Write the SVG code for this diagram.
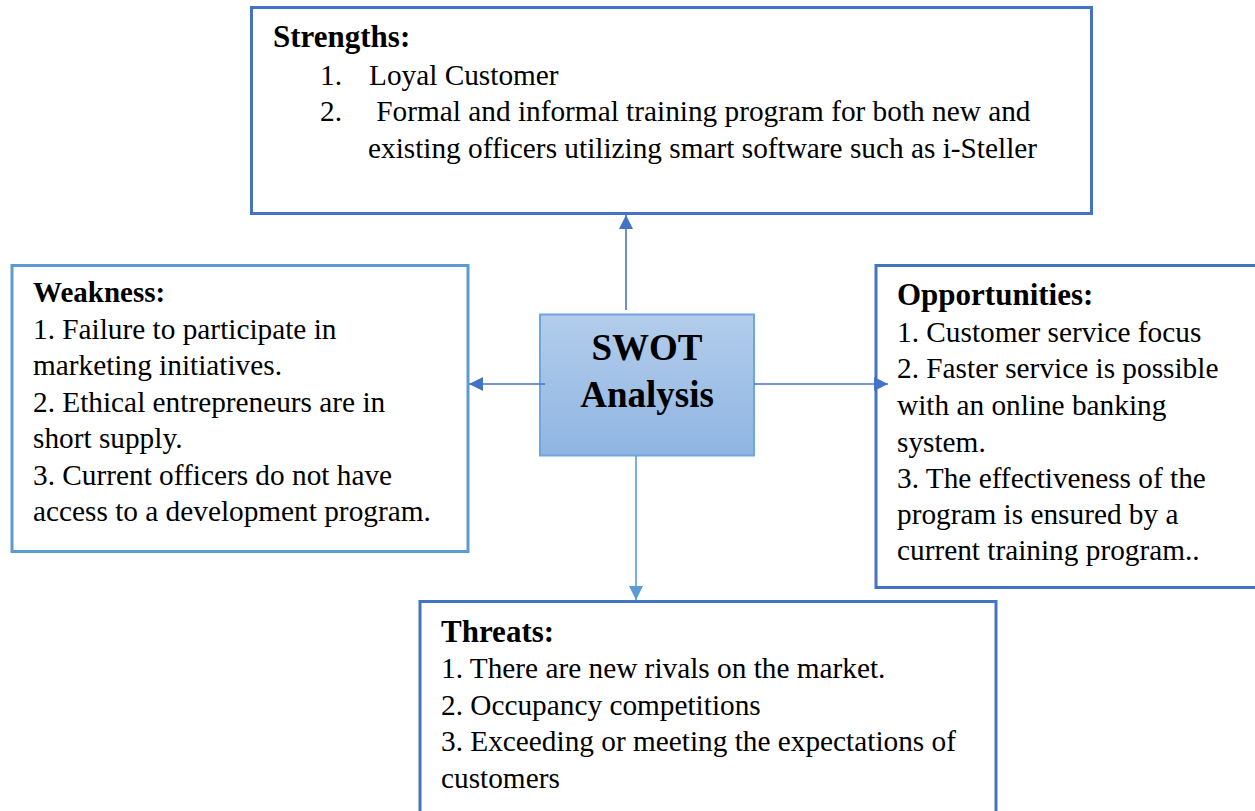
<svg xmlns="http://www.w3.org/2000/svg" width="1255" height="811" viewBox="0 0 1255 811">
<style>
.box{fill:#ffffff;stroke-width:3}
.dk{stroke:#4472C4}
.lt{stroke:#5B9BD5}
.t{font-family:"Liberation Serif","Times New Roman",serif;font-size:29.3px;fill:#000}
.h{font-family:"Liberation Serif","Times New Roman",serif;font-size:31px;font-weight:bold;fill:#000}
.c{fill:none;stroke-width:1.6}
</style>
<defs>
<linearGradient id="g" x1="0" y1="0" x2="0" y2="1">
<stop offset="0" stop-color="#b3cdeb"/>
<stop offset="1" stop-color="#8fb5e2"/>
</linearGradient>
<marker id="ad" markerUnits="userSpaceOnUse" markerWidth="14" markerHeight="14" refX="14" refY="7" orient="auto"><path d="M0,0 L14,7 L0,14 z" fill="#4472C4"/></marker>
<marker id="al" markerUnits="userSpaceOnUse" markerWidth="14" markerHeight="14" refX="14" refY="7" orient="auto"><path d="M0,0 L14,7 L0,14 z" fill="#5B9BD5"/></marker>
</defs>
<rect width="1255" height="811" fill="#ffffff"/>
<g id="strengths">
<rect class="box dk" x="251.5" y="7.5" width="840" height="206"/>
<text class="h" x="273" y="47">Strengths:</text>
<text class="t" x="320" y="85">1.</text>
<text class="t" x="369" y="85">Loyal Customer</text>
<text class="t" x="320" y="121">2.</text>
<text class="t" x="369" y="121" xml:space="preserve"> Formal and informal training program for both new and</text>
<text class="t" x="368" y="158">existing officers utilizing smart software such as i-Steller</text>
</g>
<g id="weakness">
<rect class="box lt" x="12" y="265.5" width="456" height="286"/>
<text class="h" x="33" y="302" style="font-size:29px">Weakness:</text>
<text class="t" x="33" y="339">1. Failure to participate in</text>
<text class="t" x="33" y="375">marketing initiatives.</text>
<text class="t" x="33" y="412">2. Ethical entrepreneurs are in</text>
<text class="t" x="33" y="448">short supply.</text>
<text class="t" x="33" y="485">3. Current officers do not have</text>
<text class="t" x="33" y="521">access to a development program.</text>
</g>
<g id="opportunities">
<rect class="box dk" x="876" y="265.5" width="390" height="322"/>
<text class="h" x="897" y="305">Opportunities:</text>
<text class="t" x="897" y="342">1. Customer service focus</text>
<text class="t" x="897" y="378">2. Faster service is possible</text>
<text class="t" x="897" y="415">with an online banking</text>
<text class="t" x="897" y="452">system.</text>
<text class="t" x="897" y="488">3. The effectiveness of the</text>
<text class="t" x="897" y="524">program is ensured by a</text>
<text class="t" x="897" y="560">current training program..</text>
</g>
<g id="swot">
<rect x="540" y="314.5" width="214" height="141" fill="url(#g)" stroke="#6fa6dd" stroke-width="2"/>
<text class="h" x="647" y="360" text-anchor="middle" style="font-size:37px">SWOT</text>
<text class="h" x="647" y="407" text-anchor="middle" style="font-size:37px">Analysis</text>
</g>
<g id="threats">
<rect class="box dk" x="420" y="601.5" width="576" height="230"/>
<text class="h" x="441" y="642">Threats:</text>
<text class="t" x="441" y="678">1. There are new rivals on the market.</text>
<text class="t" x="441" y="715">2. Occupancy competitions</text>
<text class="t" x="441" y="751">3. Exceeding or meeting the expectations of</text>
<text class="t" x="441" y="788">customers</text>
</g>
<g id="connectors">
<line class="c dk" x1="626" y1="310" x2="626" y2="215" marker-end="url(#ad)"/>
<line class="c dk" x1="545" y1="384" x2="469" y2="384" marker-end="url(#ad)"/>
<line class="c dk" x1="754" y1="384" x2="888" y2="384" marker-end="url(#ad)"/>
<line class="c lt" x1="636" y1="456" x2="636" y2="600" marker-end="url(#al)"/>
</g>
</svg>
